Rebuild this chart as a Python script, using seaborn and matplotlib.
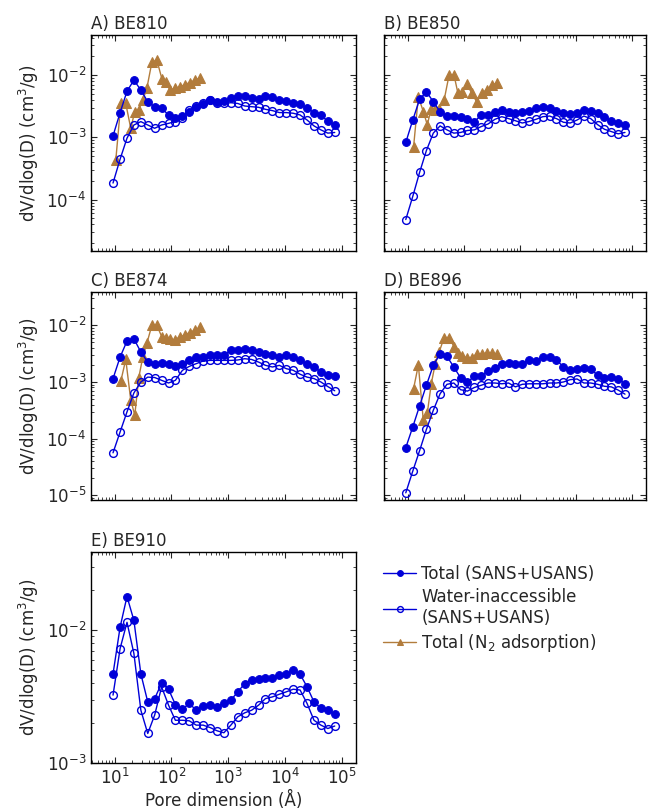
import numpy as np
import matplotlib
matplotlib.use("Agg")
import matplotlib.pyplot as plt
import seaborn as sns

# pore sizes (Angstrom) of the SANS/USANS points and of the N2 points
pore_size = [9.3, 12.4, 16.4, 21.7, 28.8, 38.1, 50.5, 66.9, 88.7, 117, 156, 206, 273, 362, 480,
             635, 841, 1114, 1479, 1959, 2594, 3436, 4550, 6039, 7998, 10590, 14030, 18580,
             24660, 32660, 43250, 57280, 75860]
n2_size = [10.4, 12.8, 15.6, 19.1, 22.5, 26.5, 31.2, 36.7, 45.0, 55.1, 67.5, 79.3, 93.3, 114,
           140, 172, 210, 258, 316, 387]

be810_total = [1.06e-3, 2.5e-3, 5.5e-3, 8.3e-3, 5.75e-3, 3.74e-3, 3.1e-3, 2.93e-3, 2.29e-3, 2.03e-3,
               2.2e-3, 2.59e-3, 3.1e-3, 3.45e-3, 3.95e-3, 3.74e-3, 3.85e-3, 4.24e-3, 4.7e-3, 4.6e-3,
               4.3e-3, 4.15e-3, 4.55e-3, 4.45e-3, 4.05e-3, 3.85e-3, 3.6e-3, 3.4e-3, 2.95e-3, 2.5e-3,
               2.29e-3, 1.8e-3, 1.58e-3]
be810_water = [1.85e-4, 4.48e-4, 9.7e-4, 1.58e-3, 1.79e-3, 1.58e-3, 1.4e-3, 1.58e-3, 1.68e-3, 1.79e-3,
               2.03e-3, 2.75e-3, 3.19e-3, 3.55e-3, 4.0e-3, 3.6e-3, 3.5e-3, 3.6e-3, 3.5e-3, 3.19e-3,
               3.11e-3, 3.04e-3, 2.82e-3, 2.69e-3, 2.5e-3, 2.5e-3, 2.44e-3, 2.29e-3, 1.9e-3, 1.53e-3,
               1.32e-3, 1.17e-3, 1.2e-3]
be810_n2 = [4.3e-4, 3.6e-3, 3.5e-3, 1.4e-3, 2.6e-3, 2.8e-3, 4.0e-3, 6.1e-3, 1.6e-2, 1.75e-2,
            8.8e-3, 7.8e-3, 5.8e-3, 6.1e-3, 6.5e-3, 7.0e-3, 7.6e-3, 8.2e-3, 9.0e-3, np.nan]

be850_total = [8.3e-4, 1.9e-3, 4.08e-3, 5.4e-3, 3.74e-3, 2.59e-3, 2.2e-3, 2.2e-3, 2.1e-3, 1.95e-3,
               1.79e-3, 2.29e-3, 2.29e-3, 2.59e-3, 2.75e-3, 2.6e-3, 2.5e-3, 2.6e-3, 2.7e-3, 2.93e-3,
               3.1e-3, 3.0e-3, 2.7e-3, 2.44e-3, 2.35e-3, 2.5e-3, 2.75e-3, 2.7e-3, 2.44e-3, 2.1e-3,
               1.85e-3, 1.7e-3, 1.58e-3]
be850_water = [4.8e-5, 1.13e-4, 2.74e-4, 6.15e-4, 1.17e-3, 1.53e-3, 1.32e-3, 1.17e-3, 1.2e-3, 1.29e-3,
               1.32e-3, 1.49e-3, 1.64e-3, 1.95e-3, 2.15e-3, 2.0e-3, 1.85e-3, 1.7e-3, 1.8e-3, 1.95e-3,
               2.15e-3, 2.2e-3, 2.0e-3, 1.75e-3, 1.7e-3, 1.9e-3, 2.2e-3, 2.0e-3, 1.6e-3, 1.35e-3,
               1.24e-3, 1.14e-3, 1.2e-3]
be850_n2 = [np.nan, 7e-4, 4.5e-3, 2.6e-3, 1.6e-3, 2.9e-3, 2.8e-3, 2.9e-3, 4.0e-3, 1.0e-2,
            1.0e-2, 5.1e-3, 5.3e-3, 7.2e-3, 5.1e-3, 3.7e-3, 5.1e-3, 5.8e-3, 6.9e-3, 7.4e-3]

be874_total = [1.15e-3, 2.76e-3, 5.3e-3, 5.8e-3, 3.39e-3, 2.25e-3, 2.11e-3, 2.15e-3, 2.05e-3, 1.89e-3,
               2.11e-3, 2.41e-3, 2.76e-3, 2.8e-3, 2.96e-3, 2.96e-3, 2.96e-3, 3.63e-3, 3.7e-3, 3.87e-3,
               3.63e-3, 3.39e-3, 3.16e-3, 3.05e-3, 2.8e-3, 2.96e-3, 2.76e-3, 2.41e-3, 2.11e-3, 1.84e-3,
               1.5e-3, 1.31e-3, 1.27e-3]
be874_water = [5.6e-5, 1.31e-4, 2.96e-4, 6.4e-4, 1.0e-3, 1.22e-3, 1.2e-3, 1.07e-3, 9.6e-4, 1.07e-3,
               1.61e-3, 1.89e-3, 2.11e-3, 2.35e-3, 2.41e-3, 2.41e-3, 2.41e-3, 2.41e-3, 2.45e-3, 2.58e-3,
               2.5e-3, 2.25e-3, 1.97e-3, 1.84e-3, 1.97e-3, 1.72e-3, 1.61e-3, 1.37e-3, 1.22e-3, 1.15e-3,
               1.0e-3, 8.3e-4, 7.0e-4]
be874_n2 = [np.nan, 1.05e-3, 2.5e-3, 4.8e-4, 2.6e-4, 1.2e-3, 2.8e-3, 4.8e-3, 1.0e-2, 1.0e-2,
            6.3e-3, 5.9e-3, 5.7e-3, 5.6e-3, 6.2e-3, 6.8e-3, 7.5e-3, 8.2e-3, 9.3e-3, np.nan]

be896_total = [6.9e-5, 1.61e-4, 3.78e-4, 8.75e-4, 1.97e-3, 3.16e-3, 2.84e-3, 1.84e-3, 1.18e-3, 1.0e-3,
               1.26e-3, 1.3e-3, 1.56e-3, 1.8e-3, 2.11e-3, 2.15e-3, 2.05e-3, 2.1e-3, 2.48e-3, 2.38e-3,
               2.76e-3, 2.8e-3, 2.48e-3, 1.84e-3, 1.65e-3, 1.7e-3, 1.77e-3, 1.7e-3, 1.31e-3, 1.18e-3,
               1.22e-3, 1.15e-3, 9.3e-4]
be896_water = [1.1e-5, 2.66e-5, 6.1e-5, 1.45e-4, 3.16e-4, 6.2e-4, 9.1e-4, 9.6e-4, 7.3e-4, 6.9e-4,
               8.0e-4, 8.75e-4, 9.6e-4, 9.6e-4, 9.3e-4, 9.6e-4, 8.2e-4, 9.1e-4, 9.3e-4, 9.3e-4,
               9.3e-4, 9.6e-4, 9.6e-4, 1.0e-3, 1.1e-3, 1.13e-3, 9.6e-4, 9.6e-4, 9.1e-4, 8.4e-4,
               8.2e-4, 7.2e-4, 6.1e-4]
be896_n2 = [np.nan, 7.6e-4, 2.0e-3, 2.1e-4, 2.8e-4, 9.3e-4, 2.1e-3, 3.4e-3, 6.1e-3, 6.1e-3,
            4.2e-3, 3.2e-3, 2.85e-3, 2.7e-3, 2.7e-3, 3.15e-3, 3.1e-3, 3.3e-3, 3.25e-3, 3.15e-3]

be910_total = [4.7e-3, 1.06e-2, 1.8e-2, 1.19e-2, 4.7e-3, 2.89e-3, 3.06e-3, 4.0e-3, 3.6e-3, 2.76e-3,
               2.55e-3, 2.81e-3, 2.5e-3, 2.68e-3, 2.73e-3, 2.65e-3, 2.84e-3, 2.98e-3, 3.44e-3, 3.97e-3,
               4.26e-3, 4.33e-3, 4.38e-3, 4.4e-3, 4.59e-3, 4.7e-3, 5.0e-3, 4.67e-3, 3.75e-3, 2.89e-3,
               2.58e-3, 2.5e-3, 2.33e-3]
be910_water = [3.25e-3, 7.3e-3, 1.15e-2, 6.7e-3, 2.5e-3, 1.67e-3, 2.3e-3, 3.75e-3, 2.73e-3, 2.1e-3,
               2.1e-3, 2.08e-3, 1.93e-3, 1.93e-3, 1.85e-3, 1.75e-3, 1.69e-3, 1.93e-3, 2.23e-3, 2.39e-3,
               2.5e-3, 2.73e-3, 3.06e-3, 3.15e-3, 3.3e-3, 3.44e-3, 3.6e-3, 3.55e-3, 2.81e-3, 2.1e-3,
               1.93e-3, 1.82e-3, 1.9e-3]

titles = ["A) BE810", "B) BE850", "C) BE874", "D) BE896", "E) BE910"]
legend_labels = ["Total (SANS+USANS)", "Water-inaccessible\n(SANS+USANS)", "Total (N$_2$ adsorption)"]

blue = "#0000d8"
brown = "#b27c3c"

sns.set_style("ticks")
plt.rcParams["font.family"] = ["DejaVu Sans"]
plt.rcParams["font.size"] = 12
plt.rcParams["axes.edgecolor"] = "black"
plt.rcParams["axes.linewidth"] = 1.0

fig = plt.figure(figsize=(6.48, 8.09), dpi=100)
W, H = 648, 809

def make_ax(left, top, width, height):
    return fig.add_axes([left / W, 1 - (top + height) / H, width / W, height / H])

ax_a = make_ax(91, 35, 265, 216)
ax_b = make_ax(384, 35, 262, 216)
ax_c = make_ax(91, 292, 265, 208)
ax_d = make_ax(384, 292, 262, 208)
ax_e = make_ax(91, 552, 265, 211)

panels = [
    (ax_a, be810_total, be810_water, be810_n2, (1.5e-5, 4.4e-2)),
    (ax_b, be850_total, be850_water, be850_n2, (1.5e-5, 4.4e-2)),
    (ax_c, be874_total, be874_water, be874_n2, (8.2e-6, 3.9e-2)),
    (ax_d, be896_total, be896_water, be896_n2, (8.2e-6, 3.9e-2)),
    (ax_e, be910_total, be910_water, None, (1e-3, 3.9e-2)),
]

for i, (ax, tot, wat, n2, ylim) in enumerate(panels):
    if n2 is not None:
        sns.lineplot(x=n2_size, y=n2, ax=ax, color=brown, lw=1, marker="^", markersize=6.5,
                     markeredgecolor=brown, markerfacecolor=brown, errorbar=None)
    sns.lineplot(x=pore_size, y=wat, ax=ax, color=blue, lw=1, marker="o", markersize=5.6,
                 markeredgecolor=blue, markerfacecolor="none", markeredgewidth=1, errorbar=None)
    sns.lineplot(x=pore_size, y=tot, ax=ax, color=blue, lw=1, marker="o", markersize=5.6,
                 markeredgecolor=blue, markerfacecolor=blue, errorbar=None)
    ax.set_xscale("log")
    ax.set_yscale("log")
    ax.set_xlim(3.8, 1.8e5)
    ax.set_ylim(*ylim)
    ax.set_title(titles[i], loc="left", fontsize=12, pad=4)
    ax.tick_params(which="both", direction="in", top=True, right=True, labelsize=12)
    ax.tick_params(which="major", length=4)
    ax.tick_params(which="minor", length=2)
    ax.set_xlabel("")
    ax.set_ylabel("")
    if ax is not ax_e:
        ax.tick_params(labelbottom=False)
    if ax in (ax_b, ax_d):
        ax.tick_params(labelleft=False)
    else:
        ax.set_ylabel("dV/dlog(D) (cm$^3$/g)", fontsize=12)

ax_e.set_xlabel("Pore dimension (Å)", fontsize=12, labelpad=2)

# legend built from the lines of panel A
lines_a = ax_a.get_lines()
handles = [lines_a[2], lines_a[1], lines_a[0]]
fig.legend(handles, legend_labels, loc="upper left", bbox_to_anchor=(368 / W, 1 - 550 / H),
           frameon=False, fontsize=12, handlelength=2.0, handletextpad=0.3, labelspacing=0.3,
           markerscale=0.75)

plt.savefig("out.png", dpi=100)
